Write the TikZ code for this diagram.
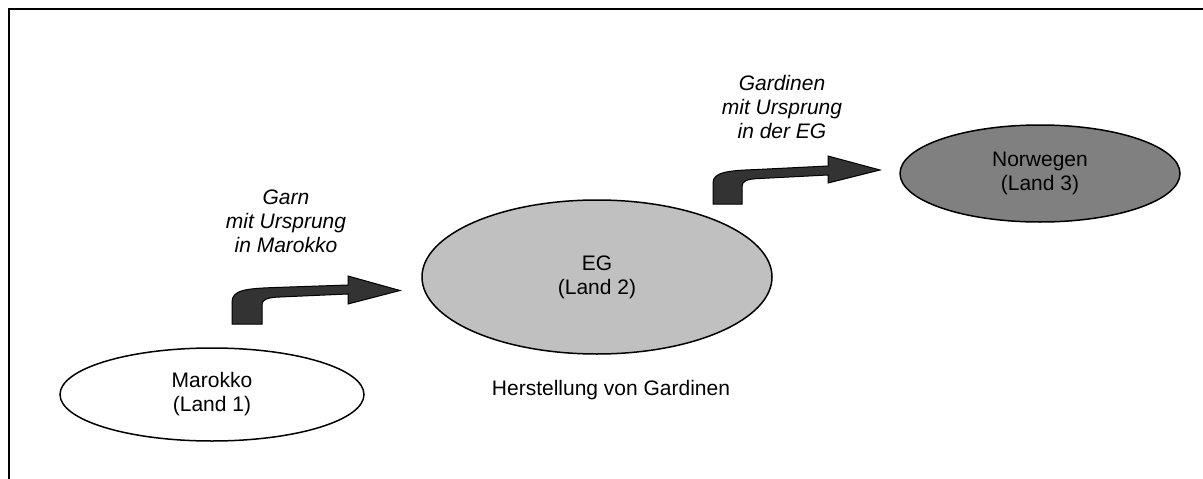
\documentclass[tikz,border=0pt]{standalone}
\usepackage{fontspec}
\setmainfont{Liberation Sans}
\usetikzlibrary{shapes.geometric}
\definecolor{arrowgray}{HTML}{333333}
\definecolor{egray}{HTML}{C0C0C0}
\definecolor{norgray}{HTML}{808080}
\begin{document}
\begin{tikzpicture}[x=1pt,y=-1pt,
  land/.style={ellipse,draw=black,line width=1.5pt,inner sep=0pt,align=center,font=\fontsize{21}{24}\selectfont},
  lbl/.style={align=center,inner sep=0pt,font=\fontsize{21}{24}\selectfont\itshape},
  plain/.style={inner sep=0pt,font=\fontsize{21}{24}\selectfont},
  bent/.style={fill=arrowgray,draw=black,line width=1pt,line join=miter}]
\useasboundingbox (0,0) rectangle (1203,479);
\fill[white] (0,0) rectangle (1203,479);
\draw[line width=2pt] (9,479) -- (9,9) -- (1203,9);

\node[land,fill=white,minimum width=304pt,minimum height=93pt] (marokko) at (212,394.5) {Marokko\\(Land 1)};
\node[land,fill=egray,minimum width=350pt,minimum height=154pt] (eg) at (597,277) {EG\\(Land 2)};
\node[land,fill=norgray,minimum width=280pt,minimum height=97pt] (norwegen) at (1040,173.5) {Norwegen\\(Land 3)};

\node[plain,anchor=base] (herst) at (611,395) {Herstellung von Gardinen};
\node[lbl] (garn) at (286,221) {Garn\\mit Ursprung\\in Marokko};
\node[lbl] (gard) at (782,107) {Gardinen\\mit Ursprung\\in der EG};

\draw[bent] (232,324) -- (232,302) .. controls (232,290) and (246,288.5) .. (275,287.5) -- (348,285) -- (348,276) -- (400,290.5) -- (348,304) -- (348,294) -- (280,297) .. controls (266,297.5) and (262,300) .. (262,305) -- (262,324) -- cycle;
\draw[bent] (713,204) -- (713,183) .. controls (713,172) and (728,170.5) .. (757,169.5) -- (828,166) -- (828,156) -- (880,170) -- (828,183) -- (828,175) -- (760,178.5) .. controls (746,179) and (742,181) .. (742,187) -- (742,204) -- cycle;
\end{tikzpicture}
\end{document}
